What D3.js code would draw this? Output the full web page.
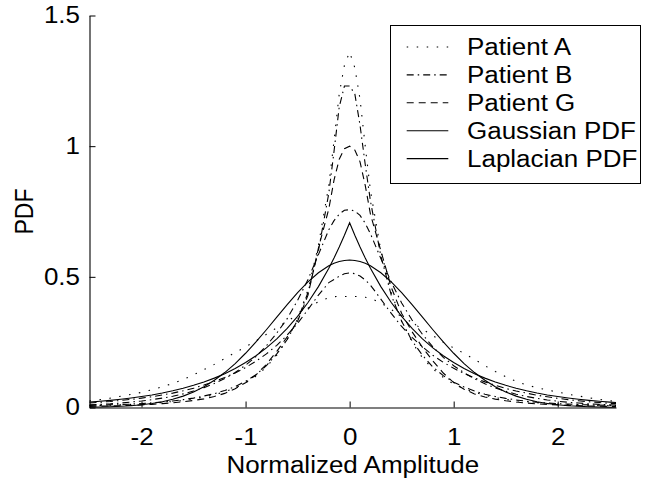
<!DOCTYPE html>
<html><head><meta charset="utf-8">
<script src="https://cdn.jsdelivr.net/npm/d3@7"></script>
<style>body{margin:0;background:#fff}</style>
</head><body>
<svg id="chart" width="651" height="481"></svg>
<script>
// ---------- data ----------
const xGrid = [-2.5,-2.4,-2.3,-2.2,-2.1,-2.0,-1.9,-1.8,-1.7,-1.6,-1.5,-1.4,-1.3,-1.2,-1.1,-1.0,-0.9,-0.8,-0.7,-0.6,-0.5,-0.4,-0.3,-0.2,
  -0.15,-0.1,-0.05,0,0.05,0.1,0.15,
  0.2,0.3,0.4,0.5,0.6,0.7,0.8,0.9,1.0,1.1,1.2,1.3,1.4,1.5,1.6,1.7,1.8,1.9,2.0,2.1,2.2,2.3,2.4,2.5,2.56];

const patientA1 = [0.007,0.008,0.009,0.010,0.012,0.014,0.016,0.019,0.023,0.027,0.033,0.040,0.049,0.060,0.075,0.094,0.120,0.155,0.200,0.260,0.340,0.450,0.620,0.850,
  1.02,1.20,1.31,1.36,1.30,1.18,1.00,
  0.83,0.60,0.44,0.33,0.25,0.19,0.148,0.115,0.090,0.072,0.058,0.047,0.038,0.031,0.026,0.022,0.018,0.015,0.013,0.011,0.010,0.009,0.008,0.007,0.006];
const patientA2 = [0.025,0.030,0.036,0.043,0.050,0.058,0.068,0.079,0.092,0.107,0.125,0.145,0.165,0.188,0.210,0.232,0.255,0.280,0.305,0.330,0.355,0.380,0.405,0.420,
  0.424,0.425,0.425,0.425,0.425,0.424,0.422,
  0.418,0.400,0.375,0.350,0.325,0.300,0.275,0.250,0.228,0.207,0.184,0.160,0.138,0.118,0.100,0.086,0.076,0.067,0.059,0.051,0.044,0.037,0.031,0.026,0.023];
const patientB1 = [0.008,0.009,0.010,0.011,0.013,0.015,0.018,0.021,0.025,0.030,0.036,0.044,0.053,0.065,0.080,0.100,0.125,0.160,0.205,0.260,0.335,0.440,0.600,0.820,
  0.98,1.15,1.23,1.23,1.20,1.08,0.93,
  0.79,0.58,0.43,0.33,0.255,0.20,0.155,0.122,0.097,0.078,0.063,0.051,0.042,0.035,0.029,0.024,0.020,0.017,0.015,0.013,0.011,0.010,0.009,0.008,0.007];
const patientB2 = [0.010,0.012,0.014,0.017,0.021,0.025,0.030,0.036,0.043,0.052,0.063,0.076,0.092,0.111,0.134,0.162,0.195,0.236,0.285,0.340,0.410,0.490,0.585,0.680,
  0.715,0.740,0.755,0.757,0.752,0.735,0.705,
  0.665,0.570,0.480,0.400,0.335,0.280,0.232,0.192,0.160,0.133,0.110,0.091,0.075,0.062,0.051,0.042,0.035,0.029,0.024,0.020,0.017,0.014,0.012,0.010,0.009];
const patientB3 = [0.017,0.020,0.023,0.027,0.031,0.036,0.041,0.048,0.055,0.064,0.074,0.086,0.100,0.115,0.132,0.153,0.177,0.205,0.238,0.277,0.322,0.375,0.430,0.478,
  0.490,0.502,0.512,0.515,0.512,0.503,0.488,
  0.468,0.415,0.360,0.310,0.268,0.232,0.200,0.173,0.150,0.130,0.113,0.098,0.085,0.073,0.063,0.055,0.047,0.041,0.035,0.030,0.026,0.022,0.019,0.016,0.015];
const patientG1 = [0.004,0.005,0.006,0.007,0.008,0.010,0.012,0.015,0.018,0.022,0.027,0.033,0.042,0.054,0.072,0.095,0.125,0.165,0.215,0.270,0.330,0.430,0.610,0.760,
  0.87,0.95,0.99,1.00,0.985,0.94,0.85,
  0.74,0.60,0.46,0.36,0.29,0.23,0.178,0.132,0.095,0.070,0.052,0.040,0.032,0.026,0.021,0.017,0.014,0.012,0.010,0.008,0.007,0.006,0.005,0.004,0.004];
const gaussianPdf = [0.0011,0.0018,0.0028,0.0045,0.0069,0.0103,0.0153,0.0221,0.0314,0.0436,0.0595,0.0795,0.1041,0.1337,0.1682,0.2076,0.2510,0.2975,0.3457,0.3936,0.4394,0.4808,0.5156,0.5421,
  0.5517,0.5586,0.5628,0.5642,0.5628,0.5586,0.5517,
  0.5421,0.5156,0.4808,0.4394,0.3936,0.3457,0.2975,0.2510,0.2076,0.1682,0.1337,0.1041,0.0795,0.0595,0.0436,0.0314,0.0221,0.0153,0.0103,0.0069,0.0045,0.0028,0.0018,0.0011,0.0008];
const laplacianPdf = [0.0206,0.0237,0.0273,0.0315,0.0363,0.0418,0.0481,0.0554,0.0639,0.0736,0.0848,0.0976,0.1124,0.1295,0.1492,0.1719,0.1980,0.2281,0.2628,0.3027,0.3486,0.4016,0.4626,0.5329,
  0.5720,0.6138,0.6588,0.7071,0.6588,0.6138,0.5720,
  0.5329,0.4626,0.4016,0.3486,0.3027,0.2628,0.2281,0.1980,0.1719,0.1492,0.1295,0.1124,0.0976,0.0848,0.0736,0.0639,0.0554,0.0481,0.0418,0.0363,0.0315,0.0273,0.0237,0.0206,0.0189];

const xTicks = [-2,-1,0,1,2];
const yTicks = [0,0.5,1,1.5];
const xLabel = "Normalized Amplitude";
const yLabel = "PDF";
const legendLabels = ["Patient A","Patient B","Patient G","Gaussian PDF","Laplacian PDF"];

// ---------- styles ----------
const dashes = {dot:"1.5,8.5", dashdot:"7,4,1.5,4", dash:"7,5", solid:null};
const FONT = "'Liberation Sans', Arial, Helvetica, sans-serif";
const FS = 23, SX = 1.13;

const series = [
  {vals: gaussianPdf, style:"solid"},
  {vals: laplacianPdf, style:"solid"},
  {vals: patientA2, style:"dot"},
  {vals: patientA1, style:"dot"},
  {vals: patientB3, style:"dashdot"},
  {vals: patientB2, style:"dashdot"},
  {vals: patientB1, style:"dashdot"},
  {vals: patientG1, style:"dash"}
];
const legendStyles = ["dot","dashdot","dash","solid","solid"];

const svg = d3.select("#chart");
const x = d3.scaleLinear().domain([-2.5, 2.56]).range([89.5, 616]);
const y = d3.scaleLinear().domain([0, 1.5]).range([407.5, 15.5]);

const line = d3.line().x((d,i) => x(xGrid[i])).y(d => y(d));

svg.append("g").selectAll("path").data(series).join("path")
  .attr("d", d => line(d.vals))
  .attr("fill","none").attr("stroke","#000").attr("stroke-width",1.1)
  .attr("stroke-dasharray", d => dashes[d.style]);

// axes
const fmt = d => String(d);
const gx = svg.append("g").attr("transform","translate(0,407.5)")
  .call(d3.axisBottom(x).tickValues(xTicks).tickSize(-6).tickSizeOuter(0).tickPadding(21).tickFormat(fmt));
const gy = svg.append("g").attr("transform","translate(89.5,0)")
  .call(d3.axisLeft(y).tickValues(yTicks).tickSize(-6).tickSizeOuter(0).tickPadding(9.5).tickFormat(fmt));
[gx, gy].forEach(g => {
  g.select(".domain").attr("stroke","#000").attr("stroke-width",1.1);
  g.selectAll(".tick line").attr("stroke","#000").attr("stroke-width",1);
  g.selectAll(".tick text").attr("font-family",FONT).attr("font-size",FS).attr("fill","#000")
    .each(function(){ const t=d3.select(this); const xx=+t.attr("x")||0; t.attr("x", xx/SX).attr("transform",`scale(${SX},1)`); });
  g.attr("font-family",FONT).attr("font-size",FS);
});

svg.append("text").attr("transform",`translate(${(x.range()[0]+x.range()[1])/2},473) scale(${SX},1)`)
  .attr("text-anchor","middle").attr("font-family",FONT).attr("font-size",FS).text(xLabel);
svg.append("text").attr("transform",`translate(33,${(y.range()[0]+y.range()[1])/2}) scale(${SX},1) rotate(-90)`)
  .attr("text-anchor","middle").attr("font-family",FONT).attr("font-size",FS).text(yLabel);

// legend
const lg = svg.append("g");
lg.append("rect").attr("x",390.5).attr("y",25.5).attr("width",250).attr("height",158)
  .attr("fill","#fff").attr("stroke","#000").attr("stroke-width",1);
const rowY = i => 47 + i*27.9;
lg.selectAll("line.s").data(legendLabels).join("line").attr("class","s")
  .attr("x1",406.7).attr("x2",448.3).attr("y1",(d,i)=>rowY(i)).attr("y2",(d,i)=>rowY(i))
  .attr("stroke","#000").attr("stroke-width",1.1).attr("stroke-dasharray",(d,i)=>dashes[legendStyles[i]]);
lg.selectAll("text").data(legendLabels).join("text")
  .attr("transform",(d,i)=>`translate(467,${rowY(i)+8}) scale(${SX},1)`)
  .attr("font-family",FONT).attr("font-size",FS).text(d=>d);
</script>
</body></html>
